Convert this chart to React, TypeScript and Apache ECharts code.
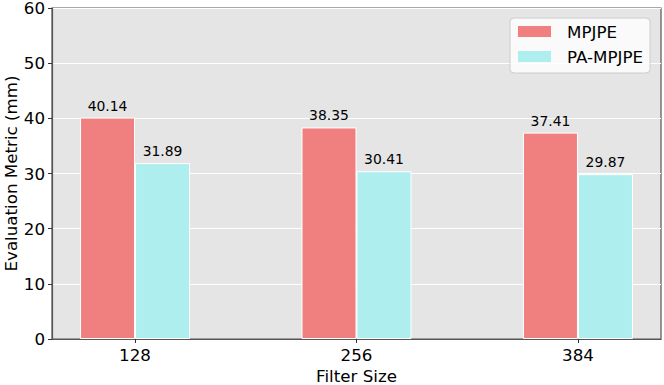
import React, { useEffect, useRef } from "react";
import * as echarts from "echarts";

const categories = ["128", "256", "384"];
const mpjpe = [40.14, 38.35, 37.41];
const paMpjpe = [31.89, 30.41, 29.87];

export default function App() {
  const ref = useRef<HTMLDivElement>(null);
  useEffect(() => {
    if (!ref.current) return;
    const chart = echarts.init(ref.current, null, { renderer: "svg" });
    const font = "DejaVu Sans";
    const pos = categories.map((_, i) => i);
    chart.setOption({
      animation: false,
      textStyle: { fontFamily: font },
      grid: {
        left: 52,
        right: 3,
        top: 8,
        bottom: 46,
        outerBoundsMode: "none",
        containLabel: false,
        show: true,
        backgroundColor: "#e5e5e5",
        borderColor: "#555",
        borderWidth: 1.2,
      },
      legend: {
        orient: "vertical",
        left: 510,
        top: 18,
        padding: [5, 7, 8, 8],
        itemWidth: 33,
        itemHeight: 11,
        itemGap: 8,
        backgroundColor: "rgba(255,255,255,0.8)",
        borderColor: "#cccccc",
        borderWidth: 1,
        borderRadius: 4,
        icon: "rect",
        textStyle: {
          fontFamily: font,
          fontSize: 16.7,
          color: "#000",
          padding: [0, 0, 0, 11],
        },
        itemStyle: { borderWidth: 0 },
        data: ["MPJPE", "PA-MPJPE"],
      },
      xAxis: {
        type: "value",
        min: -0.375,
        max: 2.375,
        name: "Filter Size",
        nameLocation: "middle",
        nameGap: 28,
        nameMoveOverlap: false,
        nameTextStyle: { fontFamily: font, fontSize: 16.7, color: "#000" },
        splitLine: { show: false },
        axisLine: { show: true, onZero: false, lineStyle: { color: "#555", width: 1.2 } },
        axisTick: {
          show: true,
          length: 4,
          customValues: [0, 1, 2],
          lineStyle: { color: "#333" },
        },
        axisLabel: {
          customValues: [0, 1, 2],
          margin: 7,
          fontFamily: font,
          fontSize: 16.7,
          color: "#000",
          formatter: (v: number) => categories[Math.round(v)] ?? "",
        },
      },
      yAxis: {
        type: "value",
        min: 0,
        max: 60,
        interval: 10,
        name: "Evaluation Metric (mm)",
        nameLocation: "middle",
        nameGap: 33,
        nameMoveOverlap: false,
        nameTextStyle: { fontFamily: font, fontSize: 16.7, color: "#000" },
        splitLine: { show: true, lineStyle: { color: "#ffffff", width: 1 } },
        axisLine: { show: true, onZero: false, lineStyle: { color: "#555", width: 1.2 } },
        axisTick: { show: true, length: 4, lineStyle: { color: "#333" } },
        axisLabel: {
          margin: 7,
          fontFamily: font,
          fontSize: 16.7,
          lineHeight: 14,
          color: "#000",
        },
      },
      series: [
        {
          name: "MPJPE",
          type: "bar",
          barWidth: 55,
          barGap: "0%",
          data: pos.map((p, i) => [p, mpjpe[i]]),
          itemStyle: { color: "#f08080", borderColor: "#ffffff", borderWidth: 1 },
          label: {
            show: true,
            position: "top",
            distance: 5,
            fontFamily: font,
            fontSize: 13.9,
            color: "#000",
            formatter: (p: any) => p.value[1].toFixed(2),
          },
        },
        {
          name: "PA-MPJPE",
          type: "bar",
          barWidth: 55,
          barGap: "0%",
          data: pos.map((p, i) => [p, paMpjpe[i]]),
          itemStyle: { color: "#afeeee", borderColor: "#ffffff", borderWidth: 1 },
          label: {
            show: true,
            position: "top",
            distance: 5,
            fontFamily: font,
            fontSize: 13.9,
            color: "#000",
            formatter: (p: any) => p.value[1].toFixed(2),
          },
        },
      ],
    });
    return () => chart.dispose();
  }, []);
  return <div ref={ref} style={{ width: 664, height: 385, position: "absolute", left: 0, top: 0 }} />;
}
